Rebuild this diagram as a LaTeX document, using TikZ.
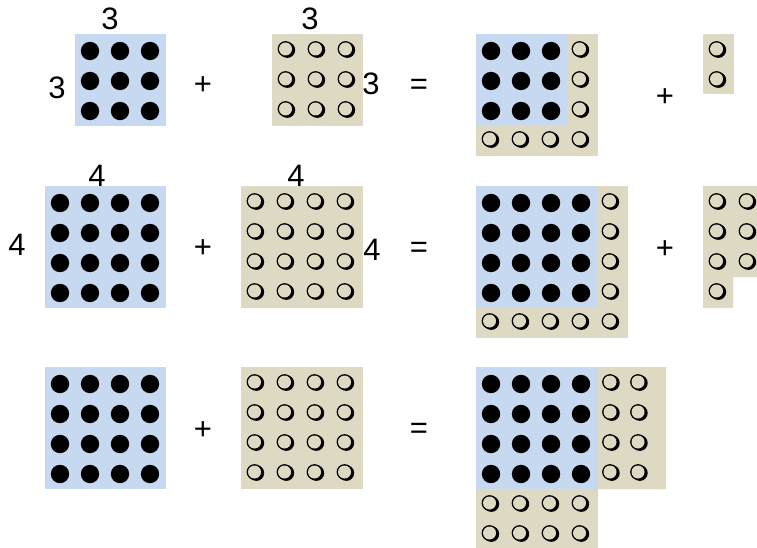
\documentclass[tikz,border=0pt]{standalone}
\usepackage{fontspec}
\setmainfont{Liberation Sans}
\usepackage{xcolor}
\usepackage{tikz}
\definecolor{blueq}{RGB}{198,217,240}
\definecolor{tanq}{RGB}{221,217,195}
\tikzset{
  num/.style={inner sep=0pt,font=\fontsize{31}{33}\selectfont},
  bsq/.style={fill=blueq},
  tsq/.style={fill=tanq}
}
\newcommand{\bdot}[2]{\fill ({#1},{#2}) circle (9.2);}
\newcommand{\wring}[2]{\fill ({#1+1.8},{#2+1}) circle (7.9); \fill ({#1},{#2}) circle (7.9); \fill[tanq] ({#1},{#2}) circle (6.5);}
\newcommand{\dotgrid}[4]{\foreach \i in {1,...,#3} {\foreach \j in {1,...,#4} {\bdot{#1+30*\i-15}{#2+30*\j-13}}}}
\newcommand{\ringgrid}[4]{\foreach \i in {1,...,#3} {\foreach \j in {1,...,#4} {\wring{#1+30*\i-16.5}{#2+30*\j-15}}}}

\begin{document}
\begin{tikzpicture}[x=1pt,y=-1pt]
\useasboundingbox (0,0) rectangle (757,548);
\clip (0,0) rectangle (757,548);
\fill[bsq] (75,34) rectangle (166,126); \dotgrid{75}{34}{3}{3}
\node[num] (a1t) at (110,19) {3}; \node[num] (a1l) at (57,88) {3};
\node[num] (p1) at (203,86) {+};
\fill[tsq] (272,34) rectangle (363,126); \ringgrid{272}{34}{3}{3}
\node[num] (b1t) at (310,19) {3}; \node[num] (b1r) at (371,84) {3};
\node[num] (e1) at (419,87) {=};
\fill[tsq] (476,34) rectangle (598,156); \fill[bsq] (476,34) rectangle (567,125);
\dotgrid{476}{34}{3}{3} \ringgrid{566}{34}{1}{3} \ringgrid{476}{124}{4}{1}
\node[num] (q1) at (665,98) {+};
\fill[tsq] (703,34) rectangle (734,94); \ringgrid{703}{34}{1}{2}
\fill[bsq] (45,186) rectangle (166,308); \dotgrid{45}{186}{4}{4}
\node[num] (a2t) at (97,176) {4}; \node[num] (a2l) at (17,245) {4};
\node[num] (p2) at (203,249) {+};
\fill[tsq] (241,186) rectangle (363,308); \ringgrid{241}{186}{4}{4}
\node[num] (b2t) at (296,176) {4}; \node[num] (b2r) at (372,250) {4};
\node[num] (e2) at (419,250) {=};
\fill[tsq] (476,186) rectangle (628,338); \fill[bsq] (476,186) rectangle (597,307);
\dotgrid{476}{186}{4}{4} \ringgrid{596}{186}{1}{4} \ringgrid{476}{306}{5}{1}
\node[num] (q2) at (665,250) {+};
\fill[tsq] (703,186) -- (763,186) -- (763,277) -- (733,277) -- (733,308) -- (703,308) -- cycle;
\ringgrid{703}{186}{2}{3} \ringgrid{703}{276}{1}{1}
\fill[bsq] (45,367) rectangle (166,489); \dotgrid{45}{367}{4}{4}
\node[num] (p3) at (203,431) {+};
\fill[tsq] (241,367) rectangle (363,489); \ringgrid{241}{367}{4}{4}
\node[num] (e3) at (419,431) {=};
\fill[tsq] (476,367) -- (666,367) -- (666,489) -- (598,489) -- (598,548) -- (476,548) -- cycle;
\fill[bsq] (476,367) rectangle (598,489);
\dotgrid{476}{367}{4}{4}
\foreach \x in {610,638} {\foreach \j in {1,...,4} {\wring{\x}{367+30*\j-15}}}
\ringgrid{476}{488}{4}{2}
\end{tikzpicture}
\end{document}
